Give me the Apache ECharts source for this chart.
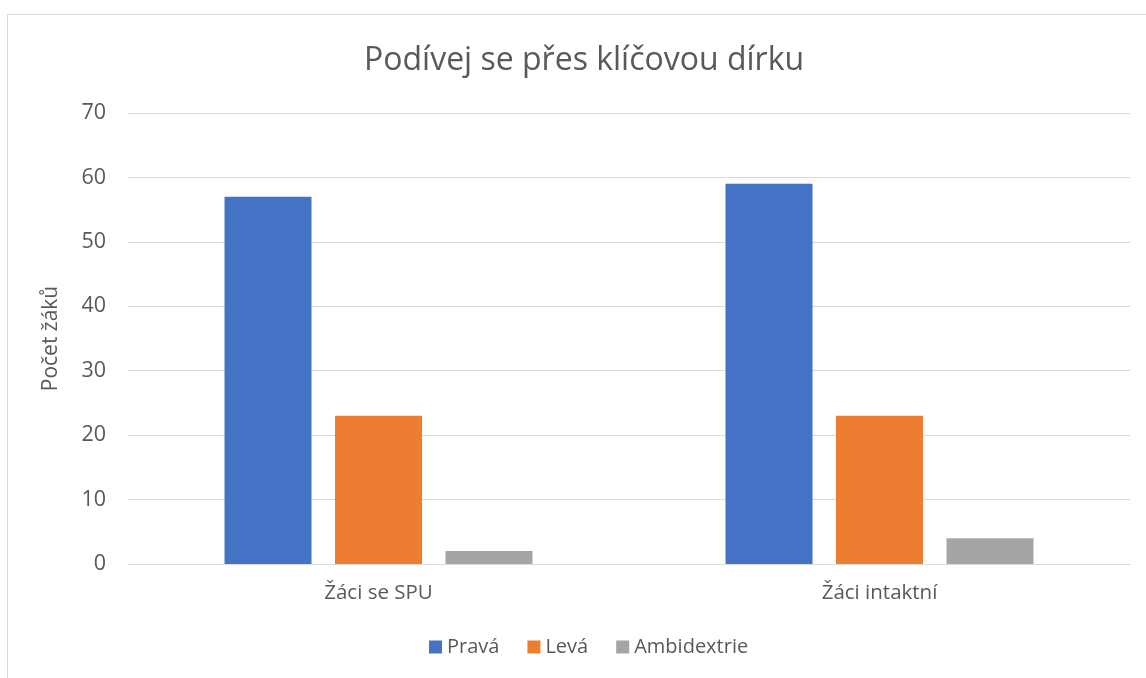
<!DOCTYPE html>
<html>
<head>
<meta charset="utf-8">
<script src="https://cdn.jsdelivr.net/npm/echarts@6/dist/echarts.min.js"></script>
<style>
    body { margin: 0; background: #fff; }
    #frame { position: absolute; left: 7px; top: 14px; width: 1160px; height: 700px; border: 1px solid #d9d9d9; }
    #chart { position: absolute; left: 0; top: 0; width: 1146px; height: 678px; }
</style>
</head>
<body>
<div id="frame"></div>
<div id="chart"></div>
<script>
let categories = ["Žáci se SPU", "Žáci intaktní"];
let seriesNames = ["Pravá", "Levá", "Ambidextrie"];
let pravaValues = [57, 59];
let levaValues = [23, 23];
let ambiValues = [2, 4];
let colors = ["#4472c4", "#ed7d31", "#a5a5a5"];

let fontFamily = "'Open Sans', sans-serif";
let chart = echarts.init(document.getElementById("chart"));

let option = {
    animation: false,
    textStyle: { fontFamily: fontFamily },
    title: {
        text: "Podívej se přes klíčovou dírku",
        left: 359,
        top: 40,
        textStyle: { color: "#595959", fontSize: 32, fontWeight: "normal", fontFamily: fontFamily }
    },
    legend: {
        bottom: 16,
        left: 424,
        itemWidth: 13,
        itemHeight: 13,
        itemGap: 28,
        icon: "rect",
        textStyle: { color: "#595959", fontSize: 20, fontFamily: fontFamily },
        data: seriesNames
    },
    grid: {
        left: 128,
        right: 16,
        top: 113,
        bottom: 114
    },
    xAxis: {
        type: "category",
        data: categories,
        axisLine: { lineStyle: { color: "#d9d9d9", width: 1 } },
        axisTick: { show: false },
        axisLabel: { color: "#595959", fontSize: 20.5, margin: 19, fontFamily: fontFamily }
    },
    yAxis: {
        type: "value",
        min: 0,
        max: 70,
        interval: 10,
        name: "Počet žáků",
        nameLocation: "middle",
        nameGap: 66,
        nameTextStyle: { color: "#595959", fontSize: 21, fontFamily: fontFamily },
        axisLine: { show: false },
        axisTick: { show: false },
        splitLine: { lineStyle: { color: "#d9d9d9", width: 1 } },
        axisLabel: { color: "#595959", fontSize: 21.5, margin: 22, fontFamily: fontFamily }
    },
    series: [
        { name: seriesNames[0], type: "bar", data: pravaValues, barWidth: 87, barGap: "27%", itemStyle: { color: colors[0] } },
        { name: seriesNames[1], type: "bar", data: levaValues, barWidth: 87, barGap: "27%", itemStyle: { color: colors[1] } },
        { name: seriesNames[2], type: "bar", data: ambiValues, barWidth: 87, barGap: "27%", itemStyle: { color: colors[2] } }
    ]
};
chart.setOption(option);
</script>
</body>
</html>
